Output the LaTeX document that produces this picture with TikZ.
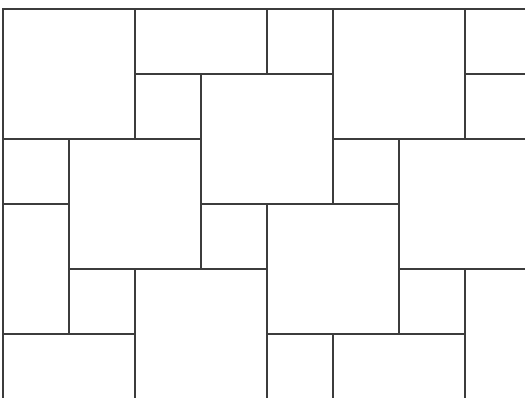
\documentclass[tikz,border=0pt]{standalone}
\usepackage{tikz}
\definecolor{jointgray}{RGB}{60,60,60}

\begin{document}
\begin{tikzpicture}[x=1pt, y=-1pt, tile/.style={draw=jointgray, line width=1.2pt}]
  % Frame of the picture
  \useasboundingbox (0,0) rectangle (525,397);
  \clip (0,0) rectangle (525,397);

  % Paving slabs (grid units: column, row)
  \begin{scope}[shift={(3pt,-9pt)}, x=66pt, y=-65pt]
    \foreach \xa/\ya/\xb/\yb in {0/0/2/2, 2/0/4/1, 4/0/5/1, 5/0/7/2, 7/0/8/1, 7/1/8/2,
                                 2/1/3/2, 3/1/5/3, 0/2/1/3, 1/2/3/4, 5/2/6/3, 6/2/8/4,
                                 0/3/1/5, 3/3/4/4, 4/3/6/5, 1/4/2/5, 2/4/4/6, 6/4/7/5,
                                 7/4/8/6, 0/5/2/6, 4/5/5/6, 5/5/7/6}{
      \draw[tile] (\xa,\ya) rectangle (\xb,\yb);
    }
  \end{scope}
\end{tikzpicture}
\end{document}
